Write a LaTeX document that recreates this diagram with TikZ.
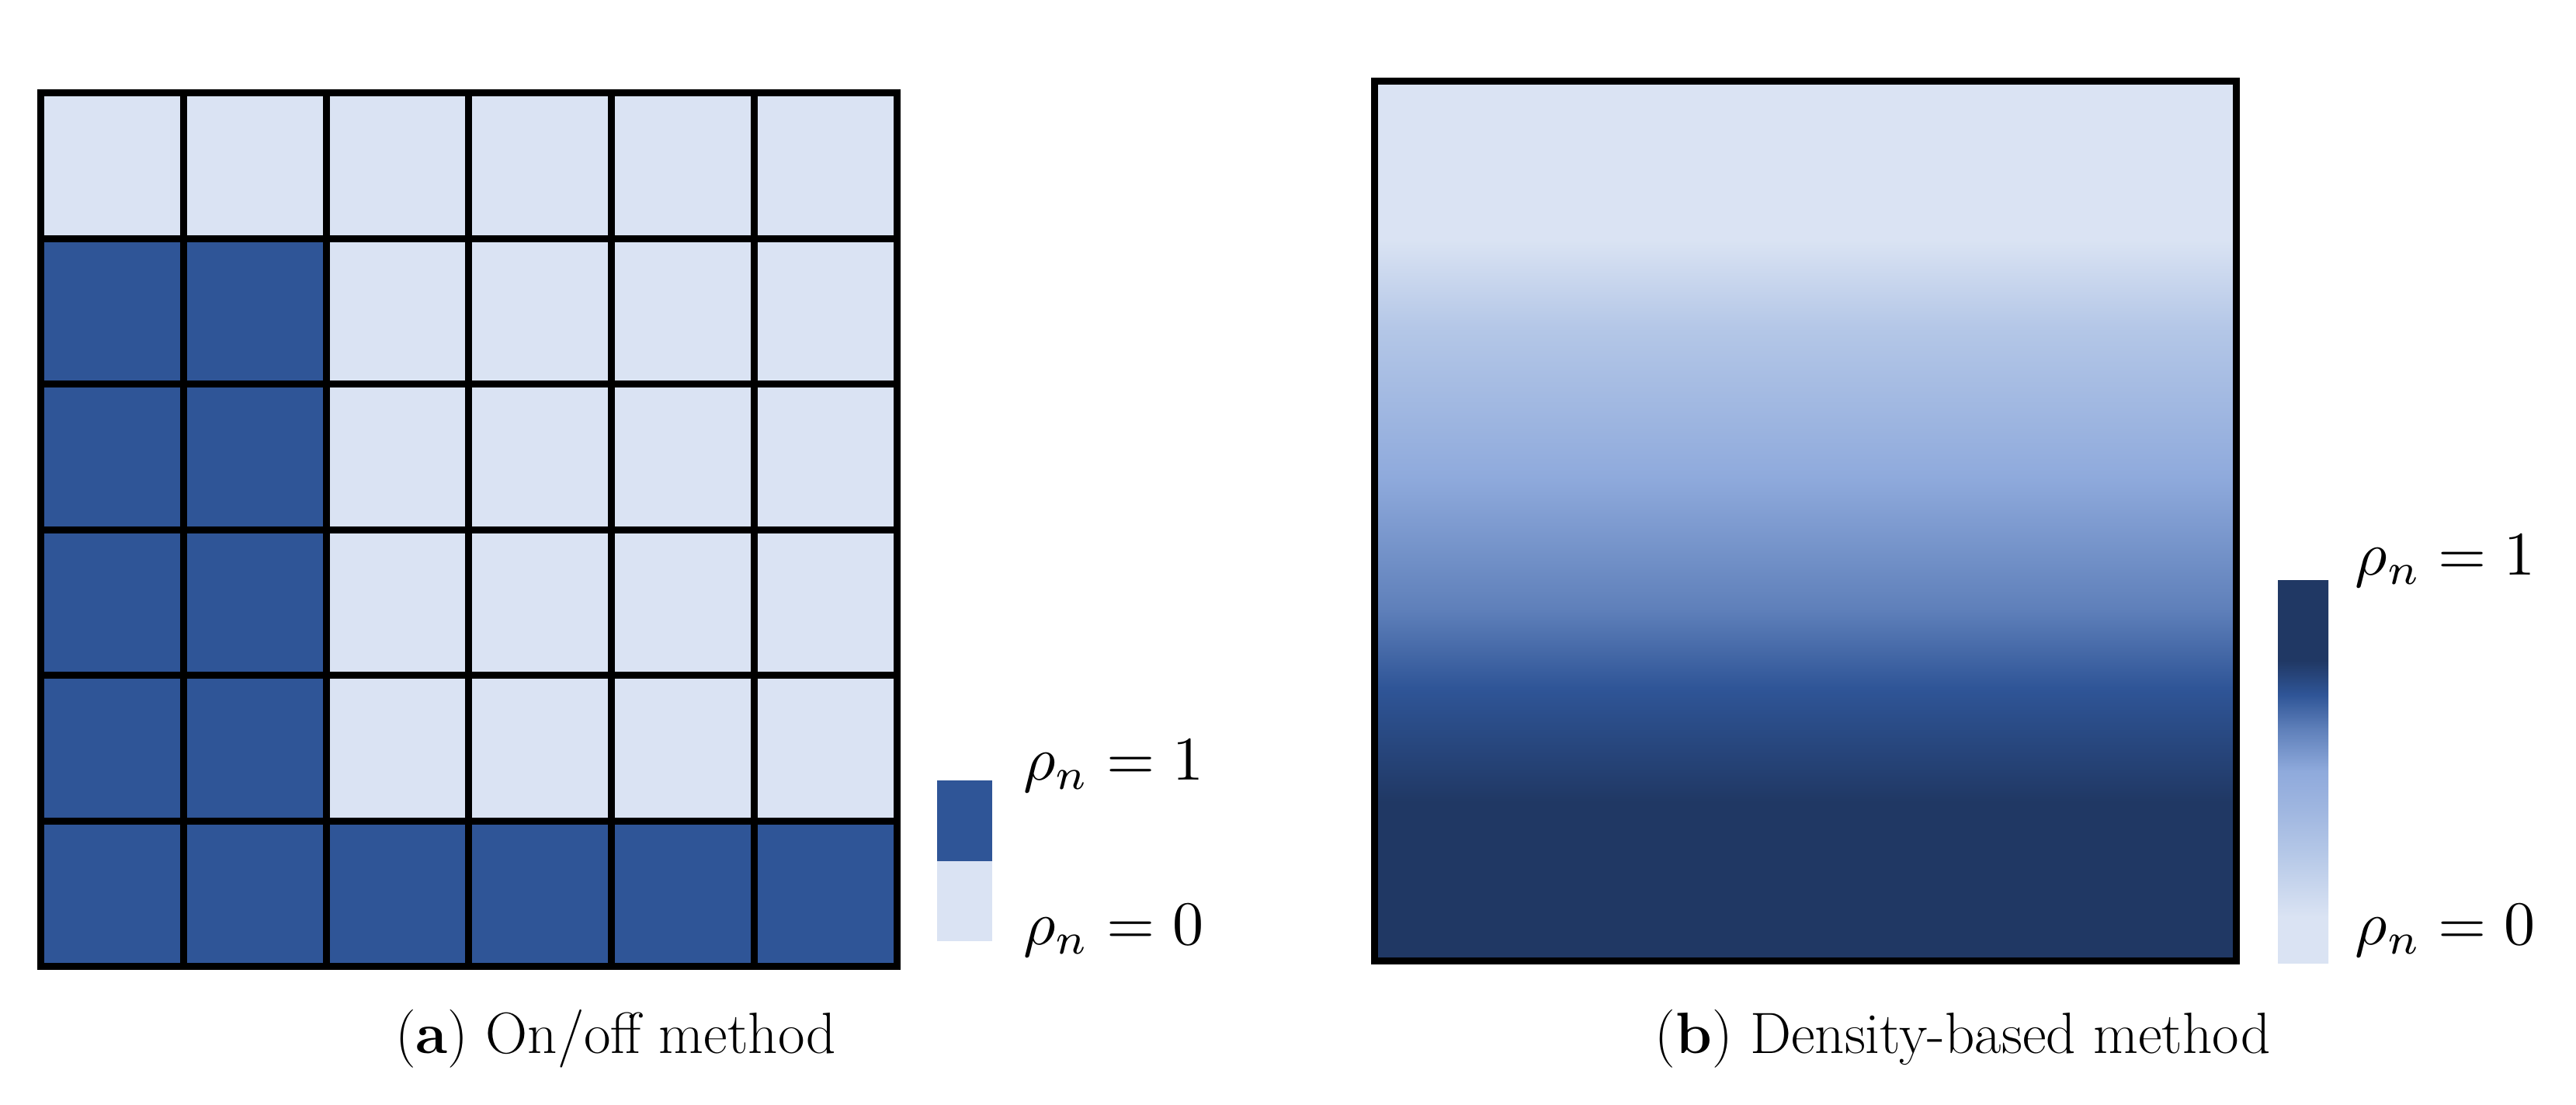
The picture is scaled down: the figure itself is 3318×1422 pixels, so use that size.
\documentclass[tikz,border=0pt]{standalone}
\usepackage{tikz}
\definecolor{lightc}{HTML}{DAE3F3}
\definecolor{darkc}{HTML}{2F5597}
\definecolor{deepc}{HTML}{203864}
\definecolor{paleb}{HTML}{B4C7E7}
\definecolor{midb}{HTML}{8FAADC}
\definecolor{mixb}{HTML}{5F80BA}
\definecolor{softb}{HTML}{9FB6E0}
\pgfdeclareverticalshading{boxshade}{100bp}{%
  color(0bp)=(deepc); color(25bp)=(deepc); color(34bp)=(deepc);
  color(40.5bp)=(darkc); color(45bp)=(mixb); color(52.5bp)=(midb);
  color(61bp)=(paleb); color(66bp)=(lightc); color(75bp)=(lightc); color(100bp)=(lightc)}
\pgfdeclareverticalshading{legshade}{100bp}{%
  color(0bp)=(lightc); color(25bp)=(lightc); color(31bp)=(lightc);
  color(39.5bp)=(paleb); color(45bp)=(softb); color(50bp)=(midb);
  color(55.5bp)=(mixb); color(60bp)=(darkc); color(64.5bp)=(deepc);
  color(75bp)=(deepc); color(100bp)=(deepc)}
\tikzset{
  gridline/.style={line width=9pt, line cap=rect},
  lbl/.style={anchor=base west, inner sep=0pt, scale=8, font=\normalsize},
  captext/.style={anchor=base, inner sep=0pt, font=\fontsize{75}{90}\selectfont}
}
\begin{document}
\begin{tikzpicture}[x=1pt,y=-1pt]
\useasboundingbox[fill=white] (0,0) rectangle (3318,1422);
% ---- panel (a): on/off grid ----
\def\gx{52.5}\def\gy{119.5}\def\cw{183.83}\def\ch{187.5}
% light background of all cells
\fill[lightc] (\gx,\gy) rectangle (\gx+6*\cw,\gy+6*\ch);
% dark cells: columns 1-2 rows 2-5, and bottom row
\fill[darkc] (\gx,\gy+\ch) rectangle (\gx+2*\cw,\gy+5*\ch);
\fill[darkc] (\gx,\gy+5*\ch) rectangle (\gx+6*\cw,\gy+6*\ch);
% grid lines
\foreach \i in {0,...,6}{
  \draw[gridline] (\gx+\i*\cw,\gy) -- (\gx+\i*\cw,\gy+6*\ch);
  \draw[gridline] (\gx,\gy+\i*\ch) -- (\gx+6*\cw,\gy+\i*\ch);
}
% legend (a)
\fill[darkc] (1207,1005) rectangle (1278,1109);
\fill[lightc] (1207,1109) rectangle (1278,1212);
\node[lbl] (a1) at (1317,1004) {$\rho_n = 1$};
\node[lbl] (a0) at (1317,1216) {$\rho_n = 0$};
% ---- panel (b): density-based ----
\shade[shading=boxshade] (1770.5,104.5) rectangle (2880.5,1237);
\draw[line width=9pt] (1770.5,104.5) rectangle (2880.5,1237);
\shade[shading=legshade] (2934,747) rectangle (2999,1240);
\node[lbl] (b1) at (3032,740) {$\rho_n = 1$};
\node[lbl] (b0) at (3032,1216) {$\rho_n = 0$};
% ---- captions ----
\node[captext] (capa) at (793,1356) {(\textbf{a}) On/off method};
\node[captext] (capb) at (2528,1356) {(\textbf{b}) Density-based method};
\end{tikzpicture}
\end{document}
